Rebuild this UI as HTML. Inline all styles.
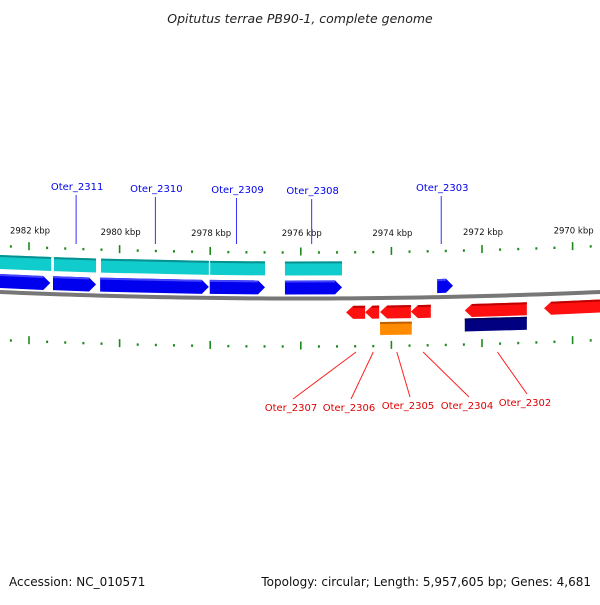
<!DOCTYPE html>
<html><head><meta charset="utf-8"><style>
body{margin:0;background:#fff;}
svg text{font-family:"DejaVu Sans","Liberation Sans",sans-serif;}
</style></head><body>
<svg id="chart" width="600" height="600" viewBox="0 0 600 600" xmlns="http://www.w3.org/2000/svg">
<text x="300" y="23" text-anchor="middle" font-size="12.5" font-style="italic" fill="#222">Opitutus terrae PB90-1, complete genome</text>
<text x="9" y="586" font-size="12" fill="#111">Accession: NC_010571</text>
<text x="591" y="586" text-anchor="end" font-size="12" fill="#111">Topology: circular; Length: 5,957,605 bp; Genes: 4,681</text>
<g id="layer"></g>
</svg>
<script>
const majorTicks=[2982,2980,2978,2976,2974,2972,2970];
const tickLabels=["2982 kbp","2980 kbp","2978 kbp","2976 kbp","2974 kbp","2972 kbp","2970 kbp"];
const cyanStart=[2982.7,2981.45,2980.41,2978.0,2976.35];
const cyanEnd=[2981.51,2980.52,2978.03,2976.79,2975.09];
const blueStart=[2982.7,2981.47,2980.43,2978.01,2976.35,2972.99];
const blueEnd=[2981.53,2980.52,2978.03,2976.79,2975.09,2972.64];
const redStart=[2975.0,2974.58,2974.25,2973.57,2972.38,2970.63];
const redEnd=[2974.58,2974.27,2973.57,2973.13,2971.01,2969.3];
const orangeStart=[2974.25];const orangeEnd=[2973.55];
const navyStart=[2972.38];const navyEnd=[2971.01];
const topLabels=["Oter_2311","Oter_2310","Oter_2309","Oter_2308","Oter_2303"];
const topLabelPos=[2980.96,2979.21,2977.42,2975.76,2972.9];
const botLabels=["Oter_2307","Oter_2306","Oter_2305","Oter_2304","Oter_2302"];
const botLabelPos=[2974.78,2974.4,2973.88,2973.3,2971.66];

const NS="http://www.w3.org/2000/svg";
const L=document.getElementById('layer');
function X(k){return 29+(2982-k)*45.3;}
function S(x){const t=(x-300)/300;return 6.5*(1-t*t);}
function mk(t,a,p){const e=document.createElementNS(NS,t);for(const k in a)e.setAttribute(k,a[k]);(p||L).appendChild(e);return e;}

let d="";for(let x=0;x<=600;x+=10){d+=(x?"L":"M")+x+","+(292+S(x)).toFixed(2);}
const bb=mk('path',{d:d,stroke:'#777',"stroke-width":4,fill:'none'});



function ticks(base,name){
 for(let i=-3;i<=36;i++){
  const kk=2982-i*0.4;const x=X(kk);if(x<0||x>600)continue;
  const major=((i%5)+5)%5===0;
  const y=base+S(x);
  const t=mk('line',{x1:x,x2:x,y1:major?y-5:y-1.2,y2:major?y+3:y+1.2,stroke:'#1a8a1a',"stroke-width":major?1.6:2});
  
  
 }
}
ticks(246,'upper-tick');ticks(340,'lower-tick');

majorTicks.forEach((k,i)=>{const x=X(k)+1;
 const t=mk('text',{x:x,y:233+S(x)*0.5,"text-anchor":"middle","font-size":"8.5",fill:'#111'});
 t.textContent=tickLabels[i];
 
 
});

function box(s,e,yb,h,col,dark,dir,name){
 const x1=X(s),x2=X(e);const a=Math.min(x1,x2),b=Math.max(x1,x2);
 const ya=yb+S(a),yc=yb+S(b);const hd=dir?7:0;
 let pts;
 if(dir===1)pts=[[a,ya],[b-hd,yc],[b,yc+h/2],[b-hd,yc+h],[a,ya+h]];
 else if(dir===-1)pts=[[a,ya+h/2],[a+hd,ya],[b,yc],[b,yc+h],[a+hd,ya+h]];
 else pts=[[a,ya],[b,yc],[b,yc+h],[a,ya+h]];
 const g=mk('g',{});
 
 
 mk('polygon',{points:pts.map(p=>p.join(',')).join(' '),fill:col},g);
 mk('line',{x1:a+(dir===-1?hd:0),y1:ya+1,x2:b-(dir===1?hd:0),y2:yc+1,stroke:dark,"stroke-width":2},g);
}
cyanStart.forEach((s,i)=>box(s,cyanEnd[i],255,14,'#10cccc','#089090',0,'cds-block'));
blueStart.forEach((s,i)=>box(s,blueEnd[i],274,14,'#0000ee','#4444ff',1,'gene-forward'));
redStart.forEach((s,i)=>box(s,redEnd[i],299.5,13,'#ff1010','#c00000',-1,'gene-reverse'));
orangeStart.forEach((s,i)=>box(s,orangeEnd[i],316,13,'#ff8c00','#c06000',0,'cds-block-orange'));
navyStart.forEach((s,i)=>box(s,navyEnd[i],314,13,'#000080','#000060',0,'cds-block-navy'));

const topTy=[190,192,193,194,191];
topLabels.forEach((n,i)=>{const x=X(topLabelPos[i]);
 const l=mk('line',{x1:x,y1:topTy[i]+5,x2:x,y2:244,stroke:'#3030ff',"stroke-width":1});
 
 
 const t=mk('text',{x:x+1,y:topTy[i],"text-anchor":"middle","font-size":"10",fill:'#0000ee'});
 t.textContent=n;
 
 
});
const botTx=[291,349,408,467,525],botTy=[411,411,409,409,406];
botLabels.forEach((n,i)=>{const x=X(botLabelPos[i]);
 const l=mk('line',{x1:x,y1:352,x2:botTx[i]+2,y2:botTy[i]-12,stroke:'#ff2020',"stroke-width":1});
 
 
 const t=mk('text',{x:botTx[i],y:botTy[i],"text-anchor":"middle","font-size":"10",fill:'#dd0000'});
 t.textContent=n;
 
 
});
</script>
</body></html>
